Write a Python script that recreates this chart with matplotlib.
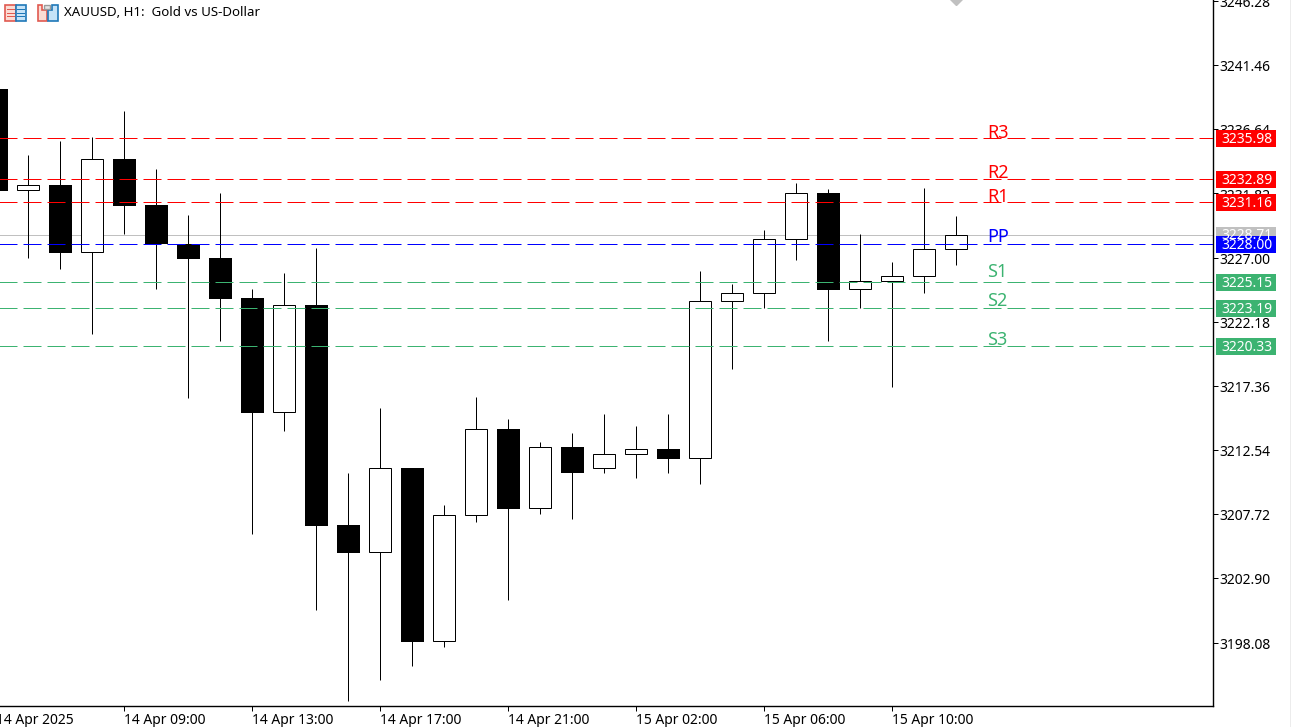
import matplotlib
matplotlib.use("Agg")
import matplotlib.pyplot as plt
from matplotlib.patches import Rectangle, Polygon
from matplotlib.transforms import IdentityTransform, ScaledTranslation

plt.rcParams['font.family'] = ['Noto Sans', 'DejaVu Sans']
plt.rcParams['lines.scale_dashes'] = False

# ---------- data ----------
opens = [3239.67, 3232.06, 3232.46, 3227.40, 3234.41, 3230.95, 3228.00, 3226.97, 3223.97, 3215.38,
         3223.44, 3206.91, 3204.86, 3211.19, 3198.17, 3207.64, 3214.12, 3208.17, 3212.77, 3211.17,
         3212.22, 3212.62, 3211.92, 3223.72, 3224.32, 3228.38, 3231.85, 3224.62, 3225.22, 3225.60, 3227.62]
closes = [3232.03, 3232.43, 3227.37, 3234.39, 3230.90, 3228.00, 3226.92, 3223.91, 3215.35, 3223.42,
          3206.86, 3204.83, 3211.17, 3198.14, 3207.64, 3214.10, 3208.14, 3212.75, 3210.84, 3212.22,
          3212.60, 3211.89, 3223.72, 3224.32, 3228.38, 3231.83, 3224.59, 3225.22, 3225.60, 3227.62, 3228.68]
highs = [3240.10, 3234.71, 3235.76, 3236.04, 3238.01, 3233.66, 3230.20, 3231.85, 3224.64, 3225.84,
         3227.72, 3210.82, 3215.70, 3211.19, 3208.41, 3216.53, 3214.87, 3213.15, 3213.82, 3215.25,
         3214.35, 3215.25, 3225.99, 3225.02, 3229.07, 3232.61, 3232.15, 3228.77, 3226.67, 3232.23, 3230.13]
lows = [3231.40, 3226.99, 3226.17, 3221.28, 3228.80, 3224.66, 3216.48, 3220.76, 3206.26, 3214.00,
        3200.55, 3193.71, 3195.29, 3196.34, 3197.77, 3207.16, 3201.30, 3207.76, 3207.38, 3210.84,
        3210.46, 3210.84, 3210.01, 3218.65, 3223.21, 3226.84, 3220.76, 3223.21, 3217.30, 3224.36, 3226.47]

price_ticks = [3246.28, 3241.46, 3236.64, 3231.82, 3227.00, 3222.18,
               3217.36, 3212.54, 3207.72, 3202.90, 3198.08]
time_ticks = [4, 8, 12, 16, 20, 24, 28]
time_labels = ['14 Apr 09:00', '14 Apr 13:00', '14 Apr 17:00', '14 Apr 21:00',
               '15 Apr 02:00', '15 Apr 06:00', '15 Apr 10:00']
first_label = '14 Apr 2025'

level_names = ['R3', 'R2', 'R1', 'PP', 'S1', 'S2', 'S3']
level_values = [3235.98, 3232.89, 3231.16, 3228.00, 3225.15, 3223.19, 3220.33]
level_colors = ['#ff0000', '#ff0000', '#ff0000', '#0000ff', '#3cb371', '#3cb371', '#3cb371']
level_text_lift_px = [0, 1.5, 0, 2.6, 5.6, 2.4, 1.5]
bid_price = 3228.71
title = 'XAUUSD, H1:  Gold vs US-Dollar'

# ---------- layout ----------
W, H = 1291, 727
AX_R, AX_B = 1213.3, 706.0
PX_PER_BAR = 32.0
X0_PX = -3.7
fig = plt.figure(figsize=(W / 100, H / 100), dpi=100, facecolor='white')
ax = fig.add_axes([0, 1 - AX_B / H, AX_R / W, AX_B / H])
ax.set_xlim(-X0_PX / PX_PER_BAR, (AX_R - X0_PX) / PX_PER_BAR)
ax.set_ylim(3228 - (AX_B - 244.3) / 13.31, 3228 + 244.3 / 13.31)
px = 0.72

idx = list(range(len(opens)))
ax.axhline(bid_price, color='#c0c0c0', lw=px, zorder=1)
ax.vlines(idx, lows, highs, color='black', lw=px, zorder=2)
for i, o, c in zip(idx, opens, closes):
    if c < o:
        ax.bar(i, o - c, bottom=c, width=23 / PX_PER_BAR, facecolor='black', edgecolor='none', zorder=3)
    else:
        ax.bar(i, c - o, bottom=o, width=22 / PX_PER_BAR, facecolor='white', edgecolor='black', lw=px, zorder=3)
xmax = ax.get_xlim()[1]
for name, v, col, lift in zip(level_names, level_values, level_colors, level_text_lift_px):
    ax.plot([0, xmax + 1], [v, v], color=col, lw=px, dashes=(18 * px, 6 * px),
            dash_capstyle='butt', zorder=4)
    ax.annotate(name, xy=(30.97, v), xytext=(0, lift * px), textcoords='offset points',
                color=col, fontsize=13, va='baseline', ha='left', zorder=5)

ax.plot([30], [ax.get_ylim()[1] + 0.05], marker='D', ms=6, color='#c0c0c0', mec='#c0c0c0', zorder=5)

for s in ('top', 'left'):
    ax.spines[s].set_visible(False)
for s in ('right', 'bottom'):
    ax.spines[s].set_linewidth(1.0)
ax.yaxis.tick_right()
ax.set_yticks(price_ticks)
ax.set_yticklabels([f'{v:.2f}' for v in price_ticks], fontsize=10)
ax.tick_params(axis='y', length=3.6, width=px, pad=0.9)
for lab in ax.get_yticklabels():
    lab.set_transform(lab.get_transform() + ScaledTranslation(0, -0.4 / 72, fig.dpi_scale_trans))
ax.set_xticks(time_ticks)
ax.set_xticklabels(time_labels, fontsize=10, ha='left')
ax.tick_params(axis='x', length=3.6, width=px, pad=1.5)
ax.annotate(first_label, xy=(0, 0), xycoords=('data', 'axes fraction'), xytext=(0, -5.2),
            textcoords='offset points', fontsize=10, ha='left', va='top', annotation_clip=False)


def frect(x0, y0, x1, y1, **kw):
    r = Rectangle((x0, H - y1), x1 - x0, y1 - y0, transform=IdentityTransform(), **kw)
    fig.add_artist(r)
    return r


def fpoly(pts, **kw):
    p = Polygon([(x, H - y) for x, y in pts], closed=True, transform=IdentityTransform(), **kw)
    fig.add_artist(p)
    return p


tags = [(bid_price, '#c0c0c0')] + list(zip(level_values, level_colors))
for v, col in tags:
    yd = H - ax.transData.transform((0, v))[1]
    frect(1216, yd - 8.2, 1276, yd + 8.8, facecolor=col, edgecolor='none', zorder=10)
    fig.text(1221 / W, 1 - (yd + 1.0) / H, f'{v:.2f}', color='white', fontsize=10,
             ha='left', va='center', zorder=11)

frect(1289.5, 0, 1291, 727, facecolor='#ececec', edgecolor='none', zorder=1)

fig.text(64 / W, 1 - 13 / H, title, fontsize=9.55, ha='left', va='center', color='black')
RED, PINK, BLUE, LBLUE = '#e05a50', '#fbdcd4', '#1f78b8', '#c5e3f8'
frect(5, 5, 15.5, 20.5, facecolor=PINK, edgecolor=RED, lw=1.2)
frect(15.5, 5, 26, 20.5, facecolor=LBLUE, edgecolor=BLUE, lw=1.2)
for y in (9.5, 13, 16.5):
    frect(7, y - 0.5, 14.5, y + 0.5, facecolor=RED, edgecolor='none')
    frect(17, y - 0.5, 24.5, y + 0.5, facecolor=BLUE, edgecolor='none')
fpoly([(37.5, 5), (41.5, 5), (41.5, 10), (46.5, 10), (46.5, 20.5), (37.5, 20.5)],
      facecolor=PINK, edgecolor=RED, lw=1.2)
fpoly([(48, 10), (52, 10), (52, 5), (58, 5), (58, 20.5), (48, 20.5)],
      facecolor=LBLUE, edgecolor=BLUE, lw=1.2)
frect(44, 5, 50, 8.5, facecolor='#e4e4e4', edgecolor='#9a9a9a', lw=1)

fig.savefig('out.png', dpi=100, facecolor='white')
